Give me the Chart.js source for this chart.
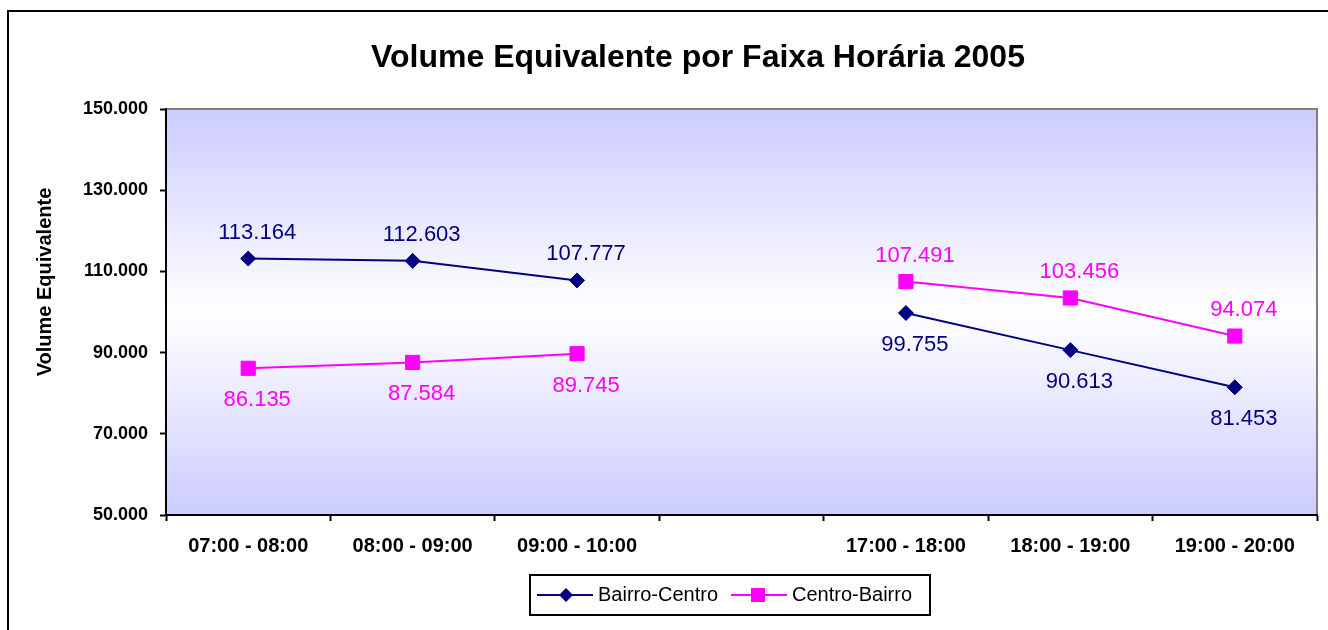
<!DOCTYPE html>
<html>
<head>
<meta charset="utf-8">
<script src="https://cdn.jsdelivr.net/npm/chart.js@4.4.1/dist/chart.umd.min.js"></script>
<style>
  html, body { margin: 0; padding: 0; background: #fff; }
  #wrap { width: 1328px; height: 630px; }
</style>
</head>
<body>
<div id="wrap"><canvas id="lineChart"></canvas></div>
<script>
// Dados do gráfico
const faixas = ["07:00 - 08:00", "08:00 - 09:00", "09:00 - 10:00", "", "17:00 - 18:00", "18:00 - 19:00", "19:00 - 20:00"];
const bairroCentro = [113164, 112603, 107777, null, 99755, 90613, 81453];
const centroBairro = [86135, 87584, 89745, null, 107491, 103456, 94074];
const yTicks = [50000, 70000, 90000, 110000, 130000, 150000];

const NAVY = "#000080";
const MAGENTA = "#FF00FF";
const FONT = "Arial, 'Liberation Sans', sans-serif";

function fmt(n) {
  return n.toString().replace(/\B(?=(\d{3})+(?!\d))/g, ".");
}

// posicao dos rotulos: acima (-1) ou abaixo (+1)
const labelPos = [
  [-1, -1, -1, 0, 1, 1, 1],
  [1, 1, 1, 0, -1, -1, -1],
];

const chartDecor = {
  id: "chartDecor",
  beforeDraw(chart) {
    const { ctx, chartArea: a } = chart;
    ctx.save();
    // fundo da area de plotagem
    const g = ctx.createLinearGradient(0, a.top, 0, a.bottom);
    g.addColorStop(0, "#ccccff");
    g.addColorStop(0.5, "#ffffff");
    g.addColorStop(1, "#ccccff");
    ctx.fillStyle = g;
    ctx.fillRect(a.left, a.top, a.right - a.left, a.bottom - a.top);
    ctx.strokeStyle = "#808080";
    ctx.lineWidth = 2;
    ctx.beginPath();
    ctx.moveTo(a.left, a.top);
    ctx.lineTo(a.right, a.top);
    ctx.lineTo(a.right, a.bottom);
    ctx.stroke();
    // moldura externa
    ctx.strokeStyle = "#000";
    ctx.lineWidth = 2;
    ctx.strokeRect(8, 11, 1400, 700);
    // titulo
    ctx.fillStyle = "#000";
    ctx.font = "bold 32px " + FONT;
    ctx.textAlign = "center";
    ctx.textBaseline = "middle";
    ctx.fillText("Volume Equivalente por Faixa Horária 2005", 698, 58);
    // titulo do eixo y
    ctx.translate(45, 282);
    ctx.rotate(-Math.PI / 2);
    ctx.font = "bold 20px " + FONT;
    ctx.fillText("Volume Equivalente", 0, 0);
    ctx.restore();
  },
  afterDraw(chart) {
    const { ctx } = chart;
    ctx.save();
    // rotulos de dados
    ctx.font = "22px " + FONT;
    ctx.textAlign = "center";
    ctx.textBaseline = "middle";
    chart.data.datasets.forEach((ds, di) => {
      const meta = chart.getDatasetMeta(di);
      meta.data.forEach((pt, i) => {
        const v = ds.data[i];
        if (v == null) return;
        const dir = labelPos[di][i];
        ctx.fillStyle = ds.borderColor;
        ctx.fillText(fmt(v), pt.x + 9, pt.y + (dir < 0 ? -26 : 32));
      });
    });
    // legenda
    const lx = 530, ly = 575, lw = 400, lh = 40, cy = ly + lh / 2;
    ctx.strokeStyle = "#000";
    ctx.lineWidth = 2;
    ctx.strokeRect(lx, ly, lw, lh);
    ctx.lineWidth = 2;
    ctx.strokeStyle = NAVY;
    ctx.beginPath(); ctx.moveTo(537, cy); ctx.lineTo(593, cy); ctx.stroke();
    ctx.fillStyle = NAVY;
    ctx.beginPath();
    ctx.moveTo(566 - 7, cy); ctx.lineTo(566, cy - 7); ctx.lineTo(566 + 7, cy); ctx.lineTo(566, cy + 7);
    ctx.closePath(); ctx.fill();
    ctx.strokeStyle = MAGENTA;
    ctx.beginPath(); ctx.moveTo(731, cy); ctx.lineTo(787, cy); ctx.stroke();
    ctx.fillStyle = MAGENTA;
    ctx.fillRect(758 - 7, cy - 7, 14, 14);
    ctx.fillStyle = "#000";
    ctx.font = "20px " + FONT;
    ctx.textAlign = "left";
    ctx.fillText("Bairro-Centro", 598, cy);
    ctx.fillText("Centro-Bairro", 792, cy);
    ctx.restore();
  },
};

const ctx = document.getElementById("lineChart").getContext("2d");
const lineChart = new Chart(ctx, {
  type: "line",
  data: {
    labels: faixas,
    datasets: [
      {
        label: "Bairro-Centro",
        data: bairroCentro,
        borderColor: NAVY,
        backgroundColor: NAVY,
        borderWidth: 2,
        pointStyle: "rectRot",
        pointRadius: 7.5,
        pointBorderWidth: 1,
        tension: 0,
      },
      {
        label: "Centro-Bairro",
        data: centroBairro,
        borderColor: MAGENTA,
        backgroundColor: MAGENTA,
        borderWidth: 2,
        pointStyle: "rect",
        pointRadius: 10,
        pointBorderWidth: 1,
        tension: 0,
      },
    ],
  },
  options: {
    responsive: true,
    maintainAspectRatio: false,
    animation: false,
    spanGaps: false,
    layout: { padding: { left: 0, right: 10, top: 109, bottom: 75 } },
    plugins: {
      legend: { display: false },
      title: { display: false },
      tooltip: { enabled: false },
    },
    scales: {
      x: {
        type: "category",
        offset: true,
        grid: { offset: true, drawOnChartArea: false, color: "#000", tickLength: 6, tickWidth: 2 },
        border: { color: "#000", width: 2 },
        ticks: { color: "#000", font: { family: FONT, size: 20, weight: "bold" }, padding: 13, maxRotation: 0, autoSkip: false },
        afterFit(scale) { scale.height = 40; },
      },
      y: {
        min: 50000,
        max: 150000,
        afterBuildTicks(scale) { scale.ticks = yTicks.map(v => ({ value: v })); },
        grid: { drawOnChartArea: false, color: "#000", tickLength: 6, tickWidth: 2 },
        border: { color: "#000", width: 2 },
        ticks: { color: "#000", font: { family: FONT, size: 18, weight: "bold" }, padding: 12, callback: v => fmt(v) },
        afterFit(scale) { scale.width = 166; },
      },
    },
  },
  plugins: [chartDecor],
});
</script>
</body>
</html>
